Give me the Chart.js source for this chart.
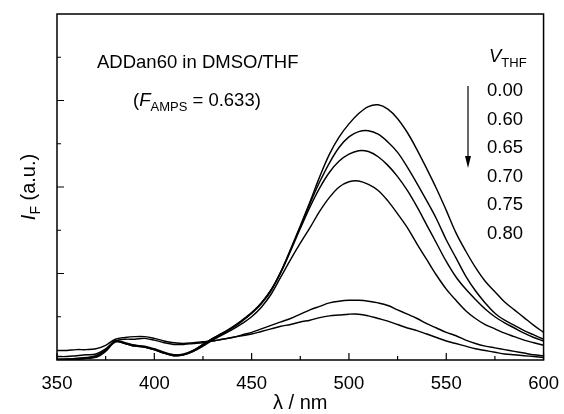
<!DOCTYPE html>
<html>
<head>
<meta charset="utf-8">
<script src="https://cdn.jsdelivr.net/npm/chart.js@4.4.1/dist/chart.umd.min.js"></script>
<style>
  body { margin: 0; background: #fff; }
  #wrap { width: 564px; height: 414px; }
</style>
</head>
<body>
<div id="wrap"><canvas id="myChart" width="564" height="414"></canvas></div>
<script>
// wavelength (nm)
const wl = [350,355,360,365,370,375,380,385,390,395,400,405,410,415,420,425,430,435,440,445,
            450,455,460,465,470,475,480,485,490,495,500,505,510,515,520,525,530,535,540,545,
            550,555,560,565,570,575,580,585,590,595,600];

// fluorescence intensity, one array per V_THF
const v000 = [0.01,0.01,0.02,0.03,0.05,0.12,0.22,0.20,0.17,0.16,0.13,0.09,0.06,0.07,0.11,0.18,0.25,0.31,0.37,0.45,
              0.54,0.65,0.80,1.02,1.28,1.55,1.83,2.12,2.38,2.58,2.73,2.85,2.93,2.95,2.90,2.79,2.63,2.43,2.21,1.98,
              1.73,1.47,1.26,1.07,0.91,0.79,0.67,0.58,0.49,0.40,0.32];
const v060 = [0.00,0.00,0.01,0.02,0.03,0.10,0.21,0.19,0.16,0.15,0.12,0.08,0.05,0.06,0.11,0.18,0.25,0.31,0.38,0.46,
              0.55,0.66,0.81,1.02,1.27,1.54,1.81,2.06,2.28,2.46,2.58,2.64,2.65,2.61,2.52,2.40,2.23,2.04,1.84,1.63,
              1.39,1.18,0.97,0.80,0.66,0.54,0.46,0.40,0.34,0.29,0.24];
const v065 = [0.00,0.01,0.01,0.02,0.04,0.11,0.22,0.19,0.17,0.15,0.12,0.08,0.05,0.06,0.10,0.17,0.24,0.30,0.37,0.45,
              0.54,0.66,0.81,1.01,1.26,1.52,1.77,1.99,2.17,2.30,2.38,2.42,2.41,2.35,2.25,2.12,1.96,1.77,1.56,1.35,
              1.14,0.96,0.82,0.70,0.59,0.50,0.43,0.37,0.31,0.26,0.22];
const v070 = [0.01,0.01,0.01,0.02,0.04,0.11,0.21,0.19,0.16,0.15,0.12,0.08,0.06,0.06,0.10,0.16,0.23,0.29,0.35,0.42,
              0.50,0.61,0.76,0.96,1.16,1.35,1.53,1.72,1.88,2.00,2.06,2.07,2.03,1.96,1.84,1.69,1.53,1.34,1.16,0.98,
              0.82,0.69,0.57,0.48,0.41,0.36,0.31,0.27,0.23,0.20,0.17];
const v075 = [0.04,0.04,0.05,0.06,0.07,0.13,0.22,0.24,0.24,0.25,0.23,0.20,0.18,0.18,0.19,0.20,0.22,0.24,0.26,0.29,
              0.32,0.36,0.40,0.44,0.48,0.53,0.58,0.62,0.66,0.68,0.69,0.69,0.68,0.66,0.63,0.58,0.53,0.48,0.42,0.37,
              0.32,0.28,0.23,0.19,0.16,0.14,0.12,0.10,0.08,0.06,0.05];
const v080 = [0.11,0.11,0.12,0.12,0.13,0.17,0.24,0.26,0.27,0.27,0.25,0.22,0.20,0.19,0.20,0.21,0.22,0.24,0.26,0.28,
              0.30,0.33,0.36,0.39,0.41,0.44,0.46,0.49,0.51,0.52,0.53,0.53,0.51,0.48,0.45,0.41,0.37,0.34,0.30,0.26,
              0.22,0.19,0.16,0.13,0.11,0.09,0.07,0.06,0.05,0.04,0.03];

const seriesLabels = ['0.00','0.60','0.65','0.70','0.75','0.80'];
const seriesData = [v000, v060, v065, v070, v075, v080];

// tick positions (x major ticks come from the scale itself)
const xMinor = [375,425,475,525,575];
const yMajor = [1,2,3];
const yMinor = [0.5,1.5,2.5,3.5];

const FONT = '"Liberation Sans", Arial, Helvetica, sans-serif';

let datasets = [];
for (let i = 0; i < seriesData.length; i++) {
  datasets.push({
    label: seriesLabels[i],
    data: wl.map((x, j) => ({x: x, y: seriesData[i][j]})),
    borderColor: '#000',
    borderWidth: 1.45,
    pointRadius: 0,
    tension: 0.35,
    fill: false
  });
}

// draws the frame, inward ticks, arrow and the annotation text
const decor = {
  id: 'decor',
  afterDraw(chart) {
    const ctx = chart.ctx;
    const a = chart.chartArea;
    const xs = chart.scales.x, ys = chart.scales.y;
    ctx.save();
    ctx.strokeStyle = '#000';
    ctx.fillStyle = '#000';
    ctx.lineWidth = 1.5;
    ctx.strokeRect(a.left, a.top, a.right - a.left, a.bottom - a.top);

    ctx.lineWidth = 1.2;
    ctx.beginPath();
    xs.ticks.forEach(t => {
      const px = xs.getPixelForValue(t.value);
      ctx.moveTo(px, a.bottom); ctx.lineTo(px, a.bottom - 7);
    });
    xMinor.forEach(v => {
      const px = xs.getPixelForValue(v);
      ctx.moveTo(px, a.bottom); ctx.lineTo(px, a.bottom - 4);
    });
    yMajor.forEach(v => {
      const py = ys.getPixelForValue(v);
      ctx.moveTo(a.left, py); ctx.lineTo(a.left + 7, py);
    });
    yMinor.forEach(v => {
      const py = ys.getPixelForValue(v);
      ctx.moveTo(a.left, py); ctx.lineTo(a.left + 4, py);
    });
    ctx.stroke();

    // arrow next to the V_THF list
    ctx.lineWidth = 1.2;
    ctx.beginPath();
    ctx.moveTo(468, 86); ctx.lineTo(468, 160);
    ctx.stroke();
    ctx.beginPath();
    ctx.moveTo(468, 168); ctx.lineTo(465, 156); ctx.lineTo(471, 156);
    ctx.closePath();
    ctx.fill();

    ctx.textBaseline = 'alphabetic';
    ctx.textAlign = 'left';

    // sample name
    ctx.font = '18.5px ' + FONT;
    ctx.fillText('ADDan60 in DMSO/THF', 97, 68);

    // (F_AMPS = 0.633)
    let x = 133;
    ctx.fillText('(', x, 106); x += ctx.measureText('(').width;
    ctx.font = 'italic 18.5px ' + FONT;
    ctx.fillText('F', x, 106); x += ctx.measureText('F').width;
    ctx.font = '13px ' + FONT;
    ctx.fillText('AMPS', x, 111); x += ctx.measureText('AMPS').width;
    ctx.font = '18.5px ' + FONT;
    ctx.fillText(' = 0.633)', x, 106);

    // V_THF header
    x = 489;
    ctx.font = 'italic 18.5px ' + FONT;
    ctx.fillText('V', x, 62); x += ctx.measureText('V').width;
    ctx.font = '13px ' + FONT;
    ctx.fillText('THF', x, 67);

    // series list
    ctx.font = '18.5px ' + FONT;
    seriesLabels.forEach((s, i) => {
      ctx.fillText(s, 487, 96 + i * 28.6);
    });

    // x axis title
    ctx.textAlign = 'center';
    ctx.font = '20px ' + FONT;
    ctx.fillText('\u03bb / nm', (a.left + a.right) / 2, 409);

    // y axis title, rotated, centred on the plot
    ctx.font = 'italic 20px ' + FONT;
    const wI = ctx.measureText('I').width;
    ctx.font = '14px ' + FONT;
    const wF = ctx.measureText('F').width;
    ctx.font = '20px ' + FONT;
    const wR = ctx.measureText(' (a.u.)').width;
    const total = wI + wF + wR;
    ctx.translate(35, (a.top + a.bottom) / 2 + total / 2);
    ctx.rotate(-Math.PI / 2);
    ctx.textAlign = 'left';
    x = 0;
    ctx.font = 'italic 20px ' + FONT;
    ctx.fillText('I', x, 0); x += wI;
    ctx.font = '14px ' + FONT;
    ctx.fillText('F', x, 5); x += wF;
    ctx.font = '20px ' + FONT;
    ctx.fillText(' (a.u.)', x, 0);
    ctx.restore();
  }
};

new Chart(document.getElementById('myChart'), {
  type: 'line',
  data: { datasets: datasets },
  options: {
    responsive: false,
    animation: false,
    devicePixelRatio: 1,
    layout: { padding: { top: 14, right: 15, left: 0, bottom: 0 } },
    plugins: { legend: { display: false }, tooltip: { enabled: false } },
    scales: {
      x: {
        type: 'linear',
        min: 350,
        max: 600,
        ticks: { stepSize: 50, color: '#000', padding: 5, font: { family: FONT, size: 18.5 } },
        grid: { display: false },
        border: { display: false },
        afterFit: (s) => { s.height = 54; }
      },
      y: {
        min: 0,
        max: 4,
        ticks: { display: false },
        grid: { display: false },
        border: { display: false },
        afterFit: (s) => { s.width = 57; }
      }
    }
  },
  plugins: [decor]
});
</script>
</body>
</html>
